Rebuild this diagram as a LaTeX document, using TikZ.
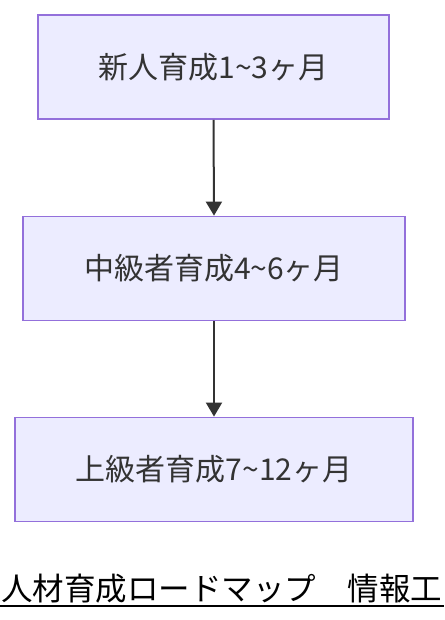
\documentclass[tikz,border=0pt]{standalone}
\usepackage{fontspec}
\setmainfont{Noto Sans CJK JP}
\usetikzlibrary{arrows.meta}
\definecolor{boxfill}{HTML}{ECECFF}
\definecolor{boxdraw}{HTML}{9370DB}
\definecolor{ink}{HTML}{333333}
\newcommand{\tld}{{\char`\~}}
\tikzset{
  stagebox/.style={draw=boxdraw, fill=boxfill, line width=1.8pt, inner sep=0pt,
    minimum height=104pt, text=ink, font=\fontsize{30}{35}\selectfont},
  flowarrow/.style={draw=ink, line width=2pt, -{Triangle[width=16pt,length=14pt]}}
}
\begin{document}
\begin{tikzpicture}[x=1pt,y=-1pt]
\useasboundingbox (0,0) rectangle (444,620);
\node[stagebox, minimum width=351pt] (s1) at (213.5,67) {新人育成1\tld 3ヶ月};
\node[stagebox, minimum width=382pt] (s2) at (214,268.5) {中級者育成4\tld 6ヶ月};
\node[stagebox, minimum width=398pt] (s3) at (214,469.5) {上級者育成7\tld 12ヶ月};
\draw[flowarrow] (s1.south) -- (s2.north);
\draw[flowarrow] (s2.south) -- (s3.north);
\begin{scope}
\clip (0,540) rectangle (444,620);
\node[anchor=base west, inner sep=0pt, font=\fontsize{31.5}{36}\selectfont] (title) at (1,600) {人材育成ロードマップ　情報工};
\coordinate (ulA) at (0,606);
\coordinate (ulB) at (444,606);
\draw[line width=2pt] (ulA) -- (ulB);
\end{scope}
\end{tikzpicture}
\end{document}
